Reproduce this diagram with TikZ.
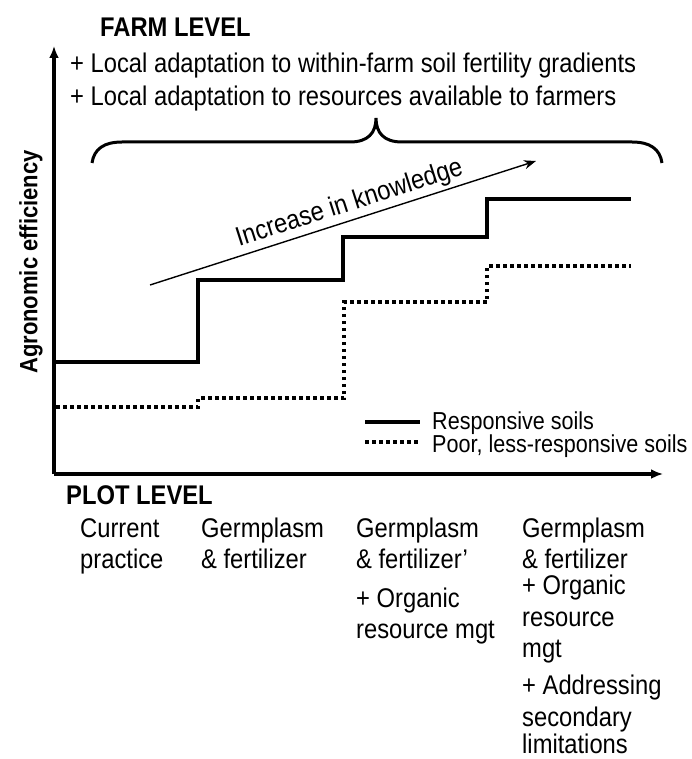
\documentclass[tikz,border=0pt]{standalone}
\usepackage{fontspec}
\setmainfont{Liberation Sans}[FakeStretch=0.88]
\usetikzlibrary{arrows.meta}

\tikzset{
  resp/.style={line width=3.3pt},
  poor/.style={line width=3.3pt, dash pattern=on 3.5pt off 3.5pt},
  axis/.style={line width=3.3pt, -{Latex[length=12pt,width=10pt]}},
  lbl/.style={anchor=base west, inner sep=0pt, font=\fontsize{27}{31}\selectfont},
  hd/.style={lbl, font=\fontsize{27}{31}\selectfont\bfseries},
  leg/.style={lbl, font=\fontsize{24.5}{28}\selectfont},
}

\begin{document}
\begin{tikzpicture}[x=1pt,y=-1pt]
  \useasboundingbox (0,0) rectangle (691,759);
  % axes
  \coordinate (o) at (54,474);
  \coordinate (ytop) at (54,46);
  \coordinate (xend) at (663,474);
  \draw[axis] (o) -- (ytop);
  \draw[axis] (o) -- (xend);
  \node[hd, anchor=center, rotate=90, font=\fontsize{25}{29}\selectfont\bfseries] (ylab) at (31,262) {Agronomic efficiency};

  % farm level
  \node[hd] (farm) at (100,37) {FARM LEVEL};
  \node[lbl] (adapt1) at (70,73) {+ Local adaptation to within-farm soil fertility gradients};
  \node[lbl] (adapt2) at (70,106) {+ Local adaptation to resources available to farmers};
  \draw[line width=3pt] (92,163) .. controls (94,149) and (104,142) .. (122,142) -- (350,142)
    .. controls (368,142) and (376,133) .. (376,118)
    .. controls (376,133) and (384,142) .. (402,142) -- (632,142)
    .. controls (650,142) and (660,149) .. (662,163);

  % knowledge
  \coordinate (k0) at (150,285);
  \coordinate (k1) at (536,161);
  \draw[line width=1.4pt, -{Stealth[length=12pt,width=9pt]}] (k0) -- node[sloped, above, pos=0.53, inner sep=3pt, font=\fontsize{27}{31}\selectfont] (know) {Increase in knowledge} (k1);

  % steps
  \draw[resp] (54,362) -| (198,280) -| (343,237) -| (487,199) -- (631,199);
  \draw[poor] (56,407) -| (198,398) -| (344,302) -| (487,266) -- (631,266);

  % legend
  \draw[resp] (365,422) -- (420,422);
  \draw[poor] (365,442) -- (420,442);
  \node[leg] (rs) at (432,429) {Responsive soils};
  \node[leg] (ps) at (432,452) {Poor, less-responsive soils};

  % plot level
  \node[hd] (plot) at (66,504) {PLOT LEVEL};
  \node[lbl] (c1a) at (80,537) {Current};
  \node[lbl] (c1b) at (80,568) {practice};
  \node[lbl] (c2a) at (201,537) {Germplasm};
  \node[lbl] (c2b) at (201,568) {\& fertilizer};
  \node[lbl] (c3a) at (356,537) {Germplasm};
  \node[lbl] (c3b) at (356,568) {\& fertilizer’};
  \node[lbl] (c3c) at (356,607) {+ Organic};
  \node[lbl] (c3d) at (356,638) {resource mgt};
  \node[lbl] (c4a) at (522,537) {Germplasm};
  \node[lbl] (c4b) at (522,568) {\& fertilizer};
  \node[lbl] (c4c) at (522,594) {+ Organic};
  \node[lbl] (c4d) at (522,626) {resource};
  \node[lbl] (c4e) at (522,657) {mgt};
  \node[lbl] (c4f) at (522,694) {+ Addressing};
  \node[lbl] (c4g) at (522,726) {secondary};
  \node[lbl] (c4h) at (522,753) {limitations};
\end{tikzpicture}
\end{document}
